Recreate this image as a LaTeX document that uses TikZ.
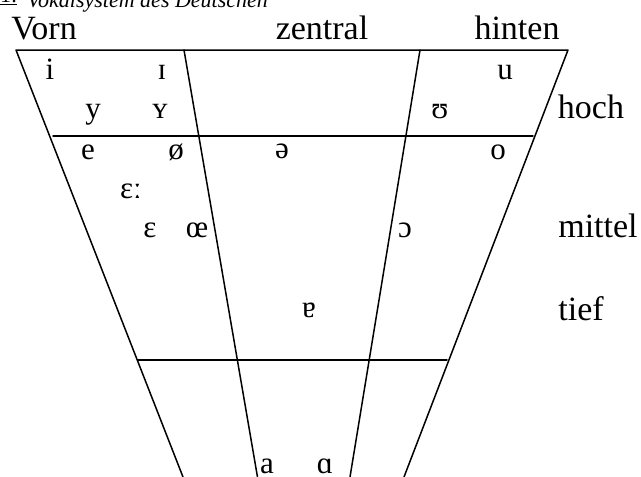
\documentclass[tikz,border=0pt]{standalone}
\usepackage{fontspec}
\setmainfont{Liberation Serif}
\tikzset{
  lbl/.style={anchor=base, inner sep=0pt, font=\fontsize{34}{36}\selectfont},
  ipa/.style={anchor=base, inner sep=0pt, font=\fontsize{31}{33}\selectfont},
  grid/.style={line width=1.5pt, line cap=round, line join=round}
}
\begin{document}
\begin{tikzpicture}[x=1pt,y=-1pt]
\useasboundingbox (0,0) rectangle (641,477);
% title (cut off at top)
\node[anchor=base west, inner sep=0pt, font=\fontsize{22}{24}\selectfont] (num) at (0,2) {\underline{1:}};
\node[anchor=base west, inner sep=0pt, font=\fontsize{22}{24}\selectfont\itshape] (title) at (27,7) {Vokalsystem des Deutschen};
% frame coordinates
\coordinate (tl) at (16,50);
\coordinate (tr) at (568,50);
\coordinate (c1t) at (184,50);
\coordinate (c2t) at (420,50);
\coordinate (bl) at (183,477);
\coordinate (c1b) at (257.5,477);
\coordinate (c2b) at (350,477);
\coordinate (br) at (404,477);
\coordinate (h1) at (53,136);
\coordinate (h2) at (533,136);
\coordinate (l1) at (138,360);
\coordinate (l2) at (447,360);
\draw[grid] (bl) -- (tl) -- (tr) -- (br);
\draw[grid] (c1t) -- (c1b);
\draw[grid] (c2t) -- (c2b);
\draw[grid] (h1) -- (h2);
\draw[grid] (l1) -- (l2);
% labels
\node[lbl] (vorn) at (44,39) {Vorn};
\node[lbl] (zentral) at (322,39) {zentral};
\node[lbl] (hinten) at (517,39) {hinten};
\node[lbl] (hoch) at (591,118) {hoch};
\node[lbl] (mittel) at (598,237) {mittel};
\node[lbl] (tief) at (581,320) {tief};
% vowels
\node[ipa] (i) at (50,79) {i};
\node[ipa] (I) at (162,79) {ɪ};
\node[ipa] (u) at (505,79) {u};
\node[ipa] (y) at (93,118) {y};
\node[ipa] (Y) at (160,118) {ʏ};
\node[ipa] (U) at (440,118) {ʊ};
\node[ipa] (e) at (88,159) {e};
\node[ipa] (oe) at (176,159) {ø};
\node[ipa] (schwa) at (282,158) {ə};
\node[ipa] (o) at (498,159) {o};
\node[ipa] (eps2) at (131,198) {ɛː};
\node[ipa] (eps) at (150,237) {ɛ};
\node[ipa] (OE) at (197,237) {œ};
\node[ipa] (O) at (405,237) {ɔ};
\node[ipa] (ae) at (309,317) {ɐ};
\node[ipa] (a) at (267,473) {a};
\node[ipa] (A) at (325,473) {ɑ};
\end{tikzpicture}
\end{document}
